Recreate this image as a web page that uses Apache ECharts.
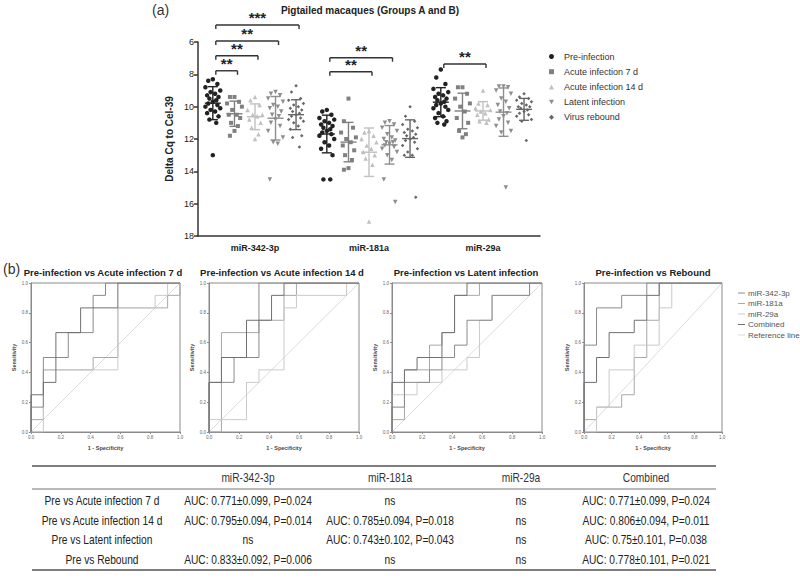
<!DOCTYPE html>
<html><head><meta charset="utf-8">
<script src="https://cdn.jsdelivr.net/npm/echarts@6/dist/echarts.min.js"></script>
<style>html,body{margin:0;padding:0;background:#fff}#c{width:800px;height:579px}</style>
</head><body><div id="c"></div>
<script>
// ---------- DATA ----------
const categories = ['miR-342-3p', 'miR-181a', 'miR-29a'];
const groups = ['Pre-infection', 'Acute infection 7 d', 'Acute infection 14 d', 'Latent infection', 'Virus rebound'];
const yTicks = [6, 8, 10, 12, 14, 16, 18];

const pre_miR342 = [8.3,8.4,8.6,8.8,9.0,9.1,9.2,9.3,9.4,9.5,9.6,9.7,9.8,9.9,10.0,10.1,10.2,10.3,10.4,10.6,10.8,11.0,13.0];
const a7_miR342  = [9.4,9.4,9.7,9.8,10.0,10.2,10.5,10.5,10.7,11.0,11.2,11.5,11.8];
const a14_miR342 = [9.4,9.6,9.9,10.2,10.5,10.5,10.6,10.8,11.0,11.3,11.7,12.0];
const lat_miR342 = [9.1,9.2,9.3,9.5,9.7,9.9,10.0,10.1,10.3,10.5,10.6,10.8,11.0,11.2,11.5,11.9,12.2,12.3,14.5];
const reb_miR342 = [8.7,9.1,9.5,9.6,9.8,9.9,10.0,10.1,10.2,10.3,10.4,10.5,10.6,10.7,10.8,10.9,11.0,11.2,11.4,11.8,11.9,12.5];

const pre_miR181 = [10.2,10.3,10.5,10.7,10.8,10.9,11.0,11.1,11.2,11.3,11.4,11.5,11.6,11.7,11.8,12.0,12.2,12.4,12.6,13.0,14.5,14.5];
const a7_miR181  = [9.5,10.9,11.3,11.6,11.9,12.0,12.2,12.4,12.7,13.0,13.3,13.8,13.9];
const a14_miR181 = [11.5,11.6,11.8,12.0,12.2,12.4,12.6,12.8,13.0,13.2,13.6,17.1];
const lat_miR181 = [10.9,11.0,11.1,11.3,11.5,11.7,11.9,12.0,12.1,12.2,12.2,12.3,12.4,12.5,12.6,12.8,13.0,13.3,14.5,15.9];
const reb_miR181 = [10.0,10.6,10.9,11.1,11.3,11.4,11.5,11.6,11.7,11.8,11.9,12.0,12.1,12.2,12.4,12.6,12.8,13.0,13.0,15.6];

const pre_miR29 = [7.7,8.2,8.6,8.9,9.1,9.2,9.3,9.4,9.5,9.6,9.7,9.8,9.9,10.0,10.1,10.2,10.4,10.6,10.7,10.9,11.0,11.1];
const a7_miR29  = [8.8,8.8,9.2,9.5,9.8,10.0,10.3,10.7,11.0,11.5,11.7,11.9];
const a14_miR29 = [9.0,9.8,9.9,10.1,10.2,10.3,10.4,10.5,10.8,10.9,11.0];
const lat_miR29 = [8.75,8.75,8.8,9.0,9.2,9.5,9.7,9.9,10.1,10.3,10.4,10.6,10.8,11.0,11.2,11.5,11.6,15.0];
const reb_miR29 = [9.2,9.4,9.5,9.6,9.7,9.8,9.9,10.0,10.0,10.1,10.2,10.3,10.4,10.5,10.6,10.8,10.9,12.1];

// significance brackets: category, compared group (vs Pre-infection), level (Delta Cq), label
const bracketCategory = [0, 0, 0, 0, 1, 1, 2];
const bracketGroup    = [1, 2, 3, 4, 2, 3, 2];
const bracketLevel    = [7.78, 6.85, 5.94, 4.95, 7.84, 6.97, 7.36];
const bracketLabel    = ['**', '**', '**', '***', '**', '**', '**'];

// ROC curves (1 - specificity, sensitivity)
const rocTitles = ['Pre-infection vs Acute infection 7 d', 'Pre-infection vs Acute infection 14 d', 'Pre-infection vs Latent infection', 'Pre-infection vs Rebound'];
const rocNames = ['miR-342-3p', 'miR-181a', 'miR-29a', 'Combined', 'Reference line'];
const rocTicks = [0, 0.2, 0.4, 0.6, 0.8, 1.0];

const roc1_miR342 = [[0,0],[0,0.167],[0.083,0.167],[0.083,0.5],[0.25,0.5],[0.25,0.667],[0.417,0.667],[0.417,0.917],[0.5,0.917],[0.5,1],[1,1]];
const roc1_miR181 = [[0,0],[0,0.083],[0.083,0.083],[0.083,0.417],[0.417,0.417],[0.417,0.5],[0.583,0.5],[0.583,0.833],[0.917,0.833],[0.917,0.917],[1,0.917],[1,1]];
const roc1_miR29  = [[0,0],[0.083,0],[0.083,0.417],[0.583,0.417],[0.583,0.833],[0.833,0.833],[0.833,0.917],[0.917,0.917],[0.917,1],[1,1]];
const roc1_comb   = [[0,0],[0,0.25],[0.083,0.25],[0.083,0.333],[0.167,0.333],[0.167,0.667],[0.333,0.667],[0.333,0.833],[0.583,0.833],[0.583,1],[1,1]];

const roc2_miR342 = [[0,0],[0,0.333],[0.167,0.333],[0.167,0.5],[0.333,0.5],[0.333,1],[1,1]];
const roc2_miR181 = [[0,0],[0.083,0],[0.083,0.667],[0.333,0.667],[0.333,0.75],[0.5,0.75],[0.5,0.917],[0.583,0.917],[0.583,1],[1,1]];
const roc2_miR29  = [[0,0],[0,0.083],[0.25,0.083],[0.25,0.333],[0.333,0.333],[0.333,0.417],[0.5,0.417],[0.5,0.833],[0.583,0.833],[0.583,0.917],[0.917,0.917],[0.917,1],[1,1]];
const roc2_comb   = [[0,0],[0,0.333],[0.083,0.333],[0.083,0.5],[0.25,0.5],[0.25,0.75],[0.417,0.75],[0.417,0.917],[0.5,0.917],[0.5,1],[1,1]];

const roc3_miR342 = [[0,0],[0,0.167],[0.083,0.167],[0.083,0.333],[0.25,0.333],[0.25,0.417],[0.333,0.417],[0.333,0.5],[0.417,0.5],[0.417,0.583],[0.5,0.583],[0.5,0.75],[0.667,0.75],[0.667,0.917],[0.917,0.917],[0.917,1],[1,1]];
const roc3_miR181 = [[0,0],[0,0.083],[0.083,0.083],[0.083,0.417],[0.25,0.417],[0.25,0.583],[0.333,0.583],[0.333,0.667],[0.417,0.667],[0.417,0.917],[0.583,0.917],[0.583,1],[1,1]];
const roc3_miR29  = [[0,0],[0,0.25],[0.167,0.25],[0.167,0.333],[0.333,0.333],[0.333,0.417],[0.5,0.417],[0.5,0.5],[0.583,0.5],[0.583,0.75],[0.667,0.75],[0.667,0.917],[0.917,0.917],[0.917,1],[1,1]];
const roc3_comb   = [[0,0],[0,0.333],[0.083,0.333],[0.083,0.417],[0.167,0.417],[0.167,0.5],[0.333,0.5],[0.333,0.667],[0.417,0.667],[0.417,0.917],[0.5,0.917],[0.5,1],[1,1]];

const roc4_miR342 = [[0,0],[0,0.583],[0.091,0.583],[0.091,0.833],[0.273,0.833],[0.273,0.917],[0.455,0.917],[0.455,1],[1,1]];
const roc4_miR181 = [[0,0],[0,0.083],[0.091,0.083],[0.091,0.167],[0.273,0.167],[0.273,0.25],[0.364,0.25],[0.364,0.5],[0.455,0.5],[0.455,0.75],[0.545,0.75],[0.545,1],[1,1]];
const roc4_miR29  = [[0,0],[0.091,0],[0.091,0.167],[0.182,0.167],[0.182,0.417],[0.364,0.417],[0.364,0.583],[0.545,0.583],[0.545,0.833],[0.636,0.833],[0.636,1],[1,1]];
const roc4_comb   = [[0,0],[0,0.333],[0.091,0.333],[0.091,0.5],[0.182,0.5],[0.182,0.667],[0.364,0.667],[0.364,0.75],[0.455,0.75],[0.455,0.917],[0.545,0.917],[0.545,1],[1,1]];
const rocReference = [[0,0],[1,1]];

// summary table
const tableHeader = ['', 'miR-342-3p', 'miR-181a', 'miR-29a', 'Combined'];
const tableRowLabels = ['Pre vs Acute infection 7 d', 'Pre vs Acute infection 14 d', 'Pre vs Latent infection', 'Pre vs Rebound'];
const tableCol_miR342 = ['AUC: 0.771±0.099, P=0.024', 'AUC: 0.795±0.094, P=0.014', 'ns', 'AUC: 0.833±0.092, P=0.006'];
const tableCol_miR181 = ['ns', 'AUC: 0.785±0.094, P=0.018', 'AUC: 0.743±0.102, P=0.043', 'ns'];
const tableCol_miR29  = ['ns', 'ns', 'ns', 'ns'];
const tableCol_comb   = ['AUC: 0.771±0.099, P=0.024', 'AUC: 0.806±0.094, P=0.011', 'AUC: 0.75±0.101, P=0.038', 'AUC: 0.778±0.101, P=0.021'];

// ---------- STYLE / LAYOUT ----------
const groupValues = [
  [pre_miR342, pre_miR181, pre_miR29],
  [a7_miR342, a7_miR181, a7_miR29],
  [a14_miR342, a14_miR181, a14_miR29],
  [lat_miR342, lat_miR181, lat_miR29],
  [reb_miR342, reb_miR181, reb_miR29]
];
const groupOffsets = [-0.37, -0.18, 0, 0.18, 0.36];
const jitter = [0, -0.04, 0.04, -0.065, 0.065, -0.02, 0.02, -0.05, 0.05, -0.03, 0.03];
const groupColors = ['#222222', '#808080', '#c0c0c0', '#8e8e8e', '#666666'];
const groupSymbols = ['circle', 'rect', 'triangle', 'path://M0,0L10,0L5,9Z', 'diamond'];
const groupSizes = [4.5, 4, 4.5, 4.5, 3.5];
const rocColors = ['#8a8a8a', '#a8a8a8', '#cacaca', '#707070', '#dcdcdc'];
const rocGrids = [
  {left: 31, top: 283, width: 149, height: 149},
  {left: 209, top: 283, width: 150, height: 149},
  {left: 392, top: 283, width: 150, height: 149},
  {left: 584, top: 283, width: 138, height: 149}
];
const rocTitleX = [103, 282, 466, 653];
const rocCurves = [
  [roc1_miR342, roc1_miR181, roc1_miR29, roc1_comb],
  [roc2_miR342, roc2_miR181, roc2_miR29, roc2_comb],
  [roc3_miR342, roc3_miR181, roc3_miR29, roc3_comb],
  [roc4_miR342, roc4_miR181, roc4_miR29, roc4_comb]
];

function meanSd(arr) {
  const m = arr.reduce((a, b) => a + b, 0) / arr.length;
  const v = arr.reduce((a, b) => a + (b - m) * (b - m), 0) / (arr.length - 1);
  return [m, Math.sqrt(v)];
}

const series = [];
groups.forEach((g, gi) => {
  const pts = [];
  groupValues[gi].forEach((arr, ci) => {
    arr.forEach((v, i) => pts.push([ci + 0.5 + groupOffsets[gi] + jitter[i % jitter.length], v]));
  });
  series.push({
    type: 'scatter', name: g, xAxisIndex: 1, yAxisIndex: 0,
    symbol: groupSymbols[gi], symbolSize: groupSizes[gi],
    itemStyle: {color: groupColors[gi], opacity: 1}, data: pts, z: 3, silent: true
  });
  const stats = groupValues[gi].map((arr, ci) => { const s = meanSd(arr); return [ci, s[0], s[1]]; });
  const col = groupColors[gi], off = groupOffsets[gi];
  series.push({
    type: 'custom', name: g + ' mean±SD', xAxisIndex: 1, yAxisIndex: 0, data: stats, z: 4, silent: true,
    renderItem: function (params, api) {
      const x = api.value(0) + 0.5 + off, m = api.value(1), sd = api.value(2);
      const c = api.coord([x, m]), t = api.coord([x, m - sd]), b = api.coord([x, m + sd]);
      const st = {stroke: col, lineWidth: 1.4};
      return {type: 'group', children: [
        {type: 'line', shape: {x1: c[0] - 8, y1: c[1], x2: c[0] + 8, y2: c[1]}, style: st},
        {type: 'line', shape: {x1: c[0], y1: t[1], x2: c[0], y2: b[1]}, style: st},
        {type: 'line', shape: {x1: c[0] - 5, y1: t[1], x2: c[0] + 5, y2: t[1]}, style: st},
        {type: 'line', shape: {x1: c[0] - 5, y1: b[1], x2: c[0] + 5, y2: b[1]}, style: st}
      ]};
    }
  });
});

// brackets
series.push({
  type: 'custom', name: 'brackets', xAxisIndex: 1, yAxisIndex: 0, z: 5, silent: true, clip: false,
  data: bracketLevel.map((lv, i) => [i, lv]),
  renderItem: function (params, api) {
    const i = api.value(0);
    const ci = bracketCategory[i], gj = bracketGroup[i], lv = bracketLevel[i];
    const p1 = api.coord([ci + 0.5 + groupOffsets[0], lv]);
    const p2 = api.coord([ci + 0.5 + groupOffsets[gj], lv]);
    const x1 = p1[0] + 3, x2 = p2[0] + 3, y = p1[1];
    const st = {stroke: '#333', lineWidth: 1.4};
    return {type: 'group', children: [
      {type: 'line', shape: {x1: x1, y1: y, x2: x2, y2: y}, style: st},
      {type: 'line', shape: {x1: x1, y1: y, x2: x1, y2: y + 4}, style: st},
      {type: 'line', shape: {x1: x2, y1: y, x2: x2, y2: y + 4}, style: st},
      {type: 'text', x: (x1 + x2) / 2, y: y, style: {text: bracketLabel[i], fill: '#222', font: 'bold 15px "Liberation Sans", Arial', align: 'center', verticalAlign: 'bottom'}}
    ]};
  }
});

// ROC series
rocCurves.forEach((curves, p) => {
  curves.forEach((cv, k) => {
    series.push({type: 'line', name: rocNames[k], xAxisIndex: p + 2, yAxisIndex: p + 1, data: cv, showSymbol: false, symbol: 'none',
      lineStyle: {color: rocColors[k], width: 1}, itemStyle: {color: rocColors[k]}, z: 3 + (k === 0 || k === 3 ? 1 : 0), silent: true});
  });
  series.push({type: 'line', name: rocNames[4], xAxisIndex: p + 2, yAxisIndex: p + 1, data: rocReference, showSymbol: false, symbol: 'none',
    lineStyle: {color: rocColors[4], width: 1}, itemStyle: {color: rocColors[4]}, z: 2, silent: true});
});

const FONT = '"Liberation Sans", Arial, sans-serif';
const grids = [{left: 198, top: 42, width: 342, height: 194}].concat(rocGrids.map(g => Object.assign({show: true, borderColor: '#8a8a8a', borderWidth: 1}, g)));

const xAxes = [
  {type: 'category', gridIndex: 0, data: categories, boundaryGap: true,
   axisLine: {onZero: false, lineStyle: {color: '#333', width: 1.5}},
   axisTick: {alignWithLabel: true, length: 4, lineStyle: {color: '#333', width: 1.5}},
   axisLabel: {fontWeight: 'bold', fontSize: 9, color: '#222', margin: 7, fontFamily: FONT}},
  {type: 'value', gridIndex: 0, min: 0, max: 3, show: false}
];
const yAxes = [
  {type: 'value', gridIndex: 0, inverse: true, min: yTicks[0], max: yTicks[yTicks.length - 1], interval: 2,
   name: 'Delta Cq to Cel-39', nameLocation: 'middle', nameGap: 24,
   nameTextStyle: {fontWeight: 'bold', fontSize: 10, color: '#222', fontFamily: FONT},
   axisLine: {show: true, lineStyle: {color: '#333', width: 1.5}},
   axisTick: {show: true, length: 4, lineStyle: {color: '#333', width: 1.5}},
   axisLabel: {fontSize: 9, color: '#222', margin: 4, fontFamily: FONT},
   splitLine: {show: false}}
];
rocGrids.forEach((g, p) => {
  xAxes.push({type: 'value', gridIndex: p + 1, min: 0, max: 1, interval: 0.2,
    name: '1 - Specificity', nameLocation: 'middle', nameGap: 13,
    nameTextStyle: {fontSize: 5.5, fontWeight: 'bold', color: '#444', fontFamily: FONT},
    axisLine: {onZero: false, lineStyle: {color: '#8a8a8a', width: 1}},
    axisTick: {length: 2, lineStyle: {color: '#8a8a8a'}},
    axisLabel: {fontSize: 4.5, color: '#666', margin: 3, formatter: v => v.toFixed(1), fontFamily: FONT},
    splitLine: {show: false}});
  yAxes.push({type: 'value', gridIndex: p + 1, min: 0, max: 1, interval: 0.2,
    name: 'Sensitivity', nameLocation: 'middle', nameGap: 14,
    nameTextStyle: {fontSize: 5.5, fontWeight: 'bold', color: '#444', fontFamily: FONT},
    axisLine: {onZero: false, lineStyle: {color: '#8a8a8a', width: 1}},
    axisTick: {length: 2, lineStyle: {color: '#8a8a8a'}},
    axisLabel: {fontSize: 4.5, color: '#666', margin: 3, formatter: v => v.toFixed(1), fontFamily: FONT},
    splitLine: {show: false}});
});

// graphic texts and table
const graphics = [
  {type: 'text', x: 152, y: 10, style: {text: '(a)', font: '14px ' + FONT, fill: '#333', align: 'left', verticalAlign: 'middle'}},
  {type: 'text', x: 370, y: 10, style: {text: 'Pigtailed macaques (Groups A and B)', font: 'bold 10px ' + FONT, fill: '#222', align: 'center', verticalAlign: 'middle'}},
  {type: 'text', x: 3, y: 269, style: {text: '(b)', font: '14px ' + FONT, fill: '#333', align: 'left', verticalAlign: 'middle'}}
];
rocTitles.forEach((t, p) => graphics.push({type: 'text', x: rocTitleX[p], y: 272,
  style: {text: t, font: 'bold 9.5px ' + FONT, fill: '#222', align: 'center', verticalAlign: 'middle'}}));

const tblLeft = 32, tblRight = 716;
const colX = [102, 248, 390, 521, 646];
const headerY = 478, rowY = [501, 520.5, 540, 559.5];
[[466, 1.6, '#555'], [489, 1.2, '#777'], [570, 1.6, '#555']].forEach(l => graphics.push({type: 'line',
  shape: {x1: tblLeft, y1: l[0], x2: tblRight, y2: l[0]}, style: {stroke: l[2], lineWidth: l[1]}}));
const tableCols = [tableRowLabels, tableCol_miR342, tableCol_miR181, tableCol_miR29, tableCol_comb];
tableHeader.forEach((h, c) => { if (h) graphics.push({type: 'text', x: colX[c], y: headerY, scaleX: 0.85,
  style: {text: h, font: '12px ' + FONT, fill: '#333', align: 'center', verticalAlign: 'middle'}}); });
tableCols.forEach((col, c) => col.forEach((txt, r) => graphics.push({type: 'text', x: colX[c], y: rowY[r], scaleX: 0.85,
  style: {text: txt, font: '12px ' + FONT, fill: '#222', align: 'center', verticalAlign: 'middle'}})));

const chart = echarts.init(document.getElementById('c'), null, {renderer: 'svg'});
chart.setOption({
  animation: false,
  backgroundColor: '#fff',
  grid: grids,
  xAxis: xAxes,
  yAxis: yAxes,
  legend: [
    {data: groups, orient: 'vertical', left: 544, top: 47, itemWidth: 5, itemHeight: 5, itemGap: 6.2,
     textStyle: {fontSize: 9, color: '#333', fontFamily: FONT, padding: [0, 0, 0, 5]}, selectedMode: false},
    {data: rocNames, orient: 'vertical', left: 733, top: 284, itemWidth: 7, itemHeight: 1, itemGap: 2.5, icon: 'rect',
     textStyle: {fontSize: 8, color: '#555', fontFamily: FONT, padding: [0, 0, 0, -2]}, selectedMode: false}
  ],
  graphic: graphics,
  series: series
});
</script></body></html>
